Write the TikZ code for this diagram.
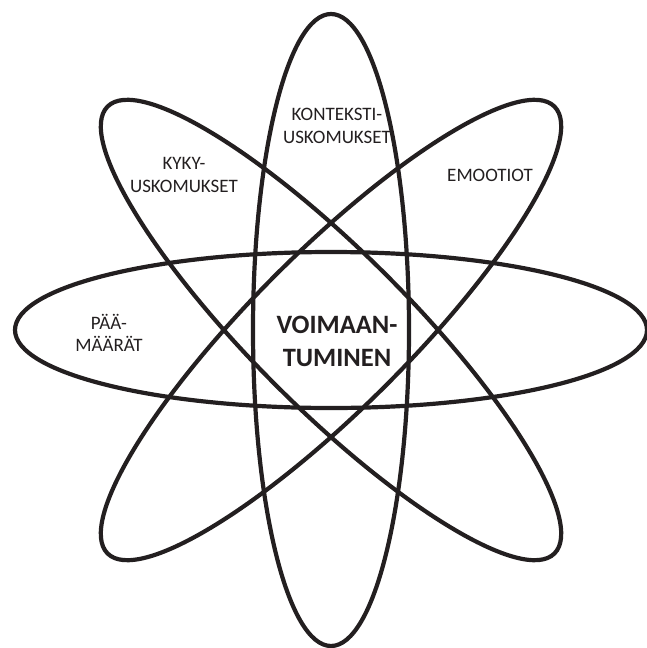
\documentclass[tikz,border=0pt]{standalone}
\usepackage{fontspec}
\setmainfont{Carlito}
\usepackage{tikz}
\usetikzlibrary{shapes.geometric}
\definecolor{ink}{HTML}{231F20}

\begin{document}
\begin{tikzpicture}[
  x=1pt, y=-1pt,
  orbit/.style={draw=ink, ellipse, line width=4.2pt,
                 minimum width=632pt, minimum height=156pt, inner sep=0pt},
  lbl/.style={align=center, text=ink, inner sep=0pt,
                 font=\fontsize{19}{22.5}\selectfont},
  core/.style={align=center, text=ink, inner sep=0pt,
                 font=\fontsize{26.5}{33}\selectfont\bfseries},
]
\useasboundingbox (0,0) rectangle (646,648);
\coordinate (hub) at (331,330);

% four orbits round the hub
\foreach \ang in {0,45,90,135}
  \node[orbit, rotate=\ang] (orbit\ang) at (hub) {};

\node[lbl] (kyky)      at (184,175) {KYKY-\\USKOMUKSET};
\node[lbl] (konteksti) at (337,126) {KONTEKSTI-\\USKOMUKSET};
\node[lbl] (emootiot)  at (490,175) {EMOOTIOT};
\node[lbl] (paamaarat) at (109,333) {PÄÄ-\\MÄÄRÄT};
\node[core] (voima)    at (337,341) {VOIMAAN-\\TUMINEN};
\end{tikzpicture}
\end{document}
